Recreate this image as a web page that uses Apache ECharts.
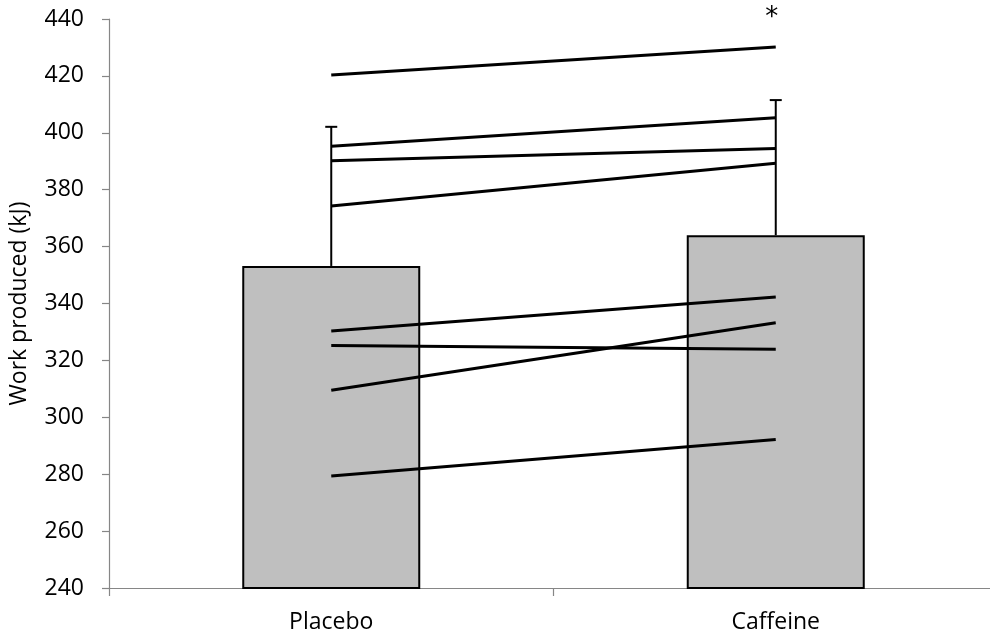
<!DOCTYPE html>
<html>
<head>
<meta charset="utf-8">
<script src="https://cdn.jsdelivr.net/npm/echarts@6/dist/echarts.min.js"></script>
<style>
html,body{margin:0;padding:0;background:#fff;overflow:hidden;width:990px;height:638px;}
#chart{width:998px;height:638px;}
</style>
</head>
<body>
<div id="chart"></div>
<script>
const categories = ['Placebo', 'Caffeine'];
const meanWork = [353.2, 364.0];
const sdWork = [48.9, 47.5];
const placeboWork = [420.3, 395.3, 390.2, 374.3, 330.3, 325.2, 309.5, 279.4];
const caffeineWork = [430.2, 405.3, 394.5, 389.3, 342.3, 323.9, 333.2, 292.2];
const significance = ['', '*'];
const yMin = 240, yMax = 440, yStep = 20;

const FONT = '"Open Sans"';
const chart = echarts.init(document.getElementById('chart'), null, {renderer: 'canvas'});

const subjectSeries = placeboWork.map((p, i) => ({
  type: 'line',
  data: [p, caffeineWork[i]],
  symbol: 'none',
  silent: true,
  z: 5,
  lineStyle: {color: '#000', width: 3, cap: 'butt'}
}));

const option = {
  animation: false,
  backgroundColor: '#fff',
  grid: {left: 108, right: 0, top: 19, bottom: 50},
  xAxis: {
    type: 'category',
    data: categories,
    boundaryGap: true,
    axisLine: {lineStyle: {color: '#868686', width: 1.2}},
    axisTick: {show: true, length: 8, lineStyle: {color: '#868686', width: 1.2}},
    axisLabel: {color: '#000', fontFamily: FONT, fontSize: 23, margin: 23}
  },
  yAxis: {
    type: 'value',
    min: yMin, max: yMax, interval: yStep,
    name: 'Work produced (kJ)',
    nameLocation: 'middle',
    nameGap: 78,
    nameTextStyle: {color: '#000', fontFamily: FONT, fontSize: 23},
    splitLine: {show: false},
    axisLine: {show: true, lineStyle: {color: '#868686', width: 1.2}},
    axisTick: {show: true, length: 7, lineStyle: {color: '#868686', width: 1.2}},
    axisLabel: {color: '#000', fontFamily: FONT, fontSize: 23, margin: 25}
  },
  series: [
    {
      type: 'bar',
      data: meanWork,
      barWidth: 178,
      z: 2,
      silent: true,
      itemStyle: {color: '#bfbfbf', borderColor: '#000', borderWidth: 2}
    },
    {
      type: 'custom',
      z: 4,
      silent: true,
      data: categories.map((c, i) => [i, meanWork[i], sdWork[i]]),
      renderItem: function (params, api) {
        const x = api.value(0), m = api.value(1), s = api.value(2);
        const base = api.coord([x, m]);
        const top = api.coord([x, m + s]);
        const st = {stroke: '#000', lineWidth: 2};
        return {
          type: 'group',
          children: [
            {type: 'line', shape: {x1: base[0], y1: base[1], x2: top[0], y2: top[1]}, style: st},
            {type: 'line', shape: {x1: top[0] - 6, y1: top[1], x2: top[0] + 6, y2: top[1]}, style: st}
          ]
        };
      }
    },
    {
      type: 'custom',
      z: 6,
      silent: true,
      clip: false,
      data: categories.map((c, i) => [i, yMax, significance[i]]),
      renderItem: function (params, api) {
        const i = params.dataIndex;
        const p = api.coord([api.value(0), api.value(1)]);
        return {
          type: 'text',
          x: p[0] - 4,
          y: p[1] - 1,
          style: {
            text: significance[i],
            fill: '#000',
            font: '26px "DejaVu Sans"',
            textAlign: 'center',
            textVerticalAlign: 'middle'
          }
        };
      }
    }
  ].concat(subjectSeries)
};
chart.setOption(option);
</script>
</body>
</html>
